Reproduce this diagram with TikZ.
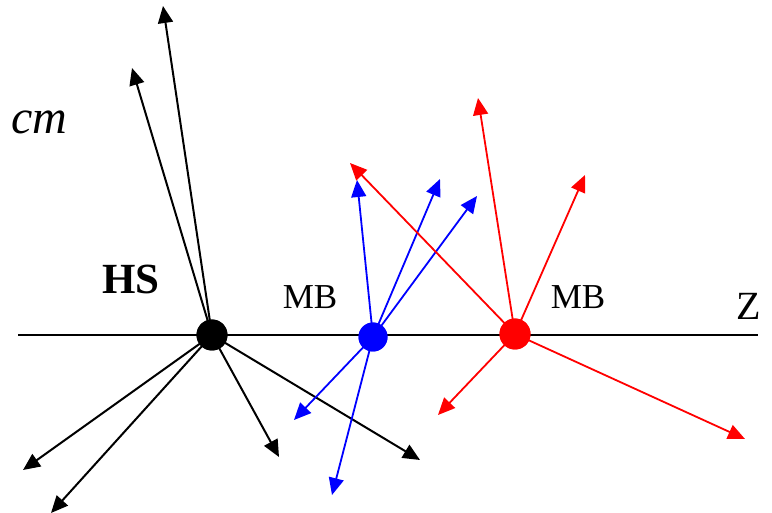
\documentclass[tikz,border=0pt]{standalone}
\usepackage{fontspec}
\setmainfont{Liberation Serif}
\usetikzlibrary{arrows.meta}
\begin{document}
\begin{tikzpicture}[x=1pt,y=-1pt,
  vtx/.style={circle,inner sep=0pt,minimum size=31pt},
  trk/.style={line width=2pt,-{Triangle[length=17pt,width=15pt]}},
  lbl/.style={inner sep=0pt,anchor=center}]
\useasboundingbox (0,0) rectangle (772,513);
% axis
\coordinate (zl) at (18,335);
\coordinate (zr) at (758,335);
\draw[line width=2pt] (zl) -- (zr);
% vertices
\node[vtx,fill=black] (hs) at (212,335) {};
\node[vtx,fill=blue,minimum size=29pt] (mb1) at (373,337) {};
\node[vtx,fill=red] (mb2) at (515,334) {};
% black endpoints
\coordinate (b1) at (163,6);
\coordinate (b2) at (132,68);
\coordinate (b3) at (23,470);
\coordinate (b4) at (51,513);
\coordinate (b5) at (279,457);
\coordinate (b6) at (420,460);
% blue endpoints
\coordinate (u1) at (357,180);
\coordinate (u2) at (440,179);
\coordinate (u3) at (477,196);
\coordinate (u4) at (294,420);
\coordinate (u5) at (332,495);
% red endpoints
\coordinate (r1) at (350,163);
\coordinate (r2) at (478,98);
\coordinate (r3) at (585,175);
\coordinate (r4) at (438,415);
\coordinate (r5) at (745,439);
% tracks
\foreach \e in {b1,b2,b3,b4,b5,b6} \draw[trk,black] (hs.center) -- (\e);
\foreach \e in {u1,u2,u3,u4,u5} \draw[trk,blue,line width=1.8pt] (mb1.center) -- (\e);
\foreach \e in {r1,r2,r3,r4,r5} \draw[trk,red,line width=1.8pt] (mb2.center) -- (\e);
% redraw vertices on top
\fill[black] (hs) circle (15.5pt);
\fill[blue] (mb1) circle (14.5pt);
\fill[red] (mb2) circle (15.5pt);
% labels
\node[lbl,font=\fontsize{48pt}{52pt}\selectfont\itshape] (cm) at (39,122) {cm};
\node[lbl,font=\fontsize{43pt}{47pt}\selectfont\bfseries] (hsl) at (131,279) {HS};
\node[lbl,font=\fontsize{35pt}{40pt}\selectfont] (mbl1) at (310,297) {MB};
\node[lbl,font=\fontsize{35pt}{40pt}\selectfont] (mbl2) at (578,297) {MB};
\node[lbl,font=\fontsize{40pt}{44pt}\selectfont] (zlab) at (749,306) {Z};
\end{tikzpicture}
\end{document}
